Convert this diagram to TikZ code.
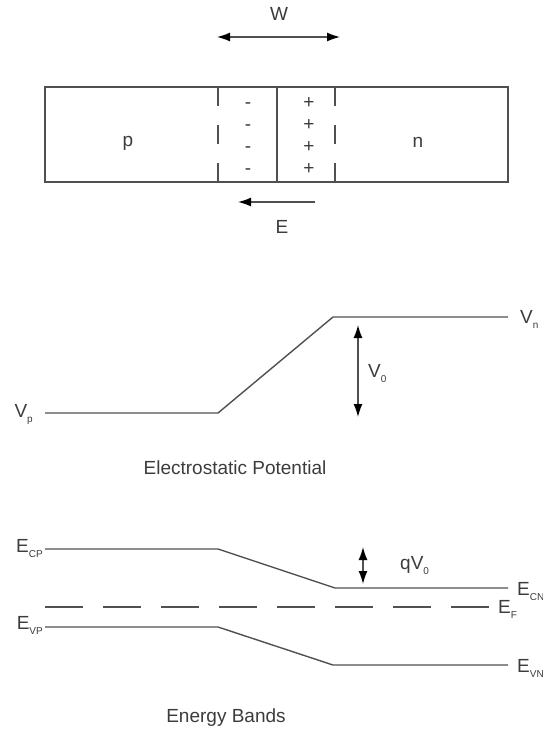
\documentclass[tikz,border=0pt]{standalone}
\usepackage{fontspec}
\setmainfont{Liberation Sans}
\usepackage{tikz}
\usetikzlibrary{positioning, arrows.meta}
\definecolor{linegray}{RGB}{80,80,80}
\definecolor{textgray}{RGB}{60,60,60}
\newcommand{\lowsub}[1]{\raisebox{-5.5pt}{\fontsize{10}{10}\selectfont #1}}

\begin{document}
\begin{tikzpicture}[
  x=1pt, y=-1pt,
  lbl/.style={inner sep=0pt, text=textgray, font=\fontsize{19}{22}\selectfont},
  wire/.style={draw=linegray, line width=1.4pt},
  edge/.style={wire, dash pattern=on 19pt off 19pt},
  fermi/.style={wire, dash pattern=on 38pt off 20pt},
  dim/.style={wire, {Latex[length=13pt,width=9pt,color=black]}-{Latex[length=13pt,width=9pt,color=black]}},
  field/.style={wire, -{Latex[length=13pt,width=9pt,color=black]}}
]
\useasboundingbox (0,0) rectangle (543,732);

\node[lbl, anchor=base] (w) at (279,20) {W};
\coordinate (wl) at (217,37);
\coordinate (wr) at (340,37);
\draw[dim] (wl) -- (wr);

\coordinate (boxnw) at (45,87);
\coordinate (boxse) at (508,182);
\draw[wire] (boxnw) rectangle (boxse);
\coordinate (dl1) at (218,87);
\coordinate (dl2) at (218,182);
\coordinate (dr1) at (335,87);
\coordinate (dr2) at (335,182);
\coordinate (jn1) at (277,87);
\coordinate (jn2) at (277,182);
\draw[edge] (dl1) -- (dl2);
\draw[edge] (dr1) -- (dr2);
\draw[wire] (jn1) -- (jn2);
\foreach \y [count=\i] in {102,124,146,168} {
  \node[lbl] (minus\i) at (248,\y+4) {-};
  \node[lbl] (plus\i) at (309,\y+1) {+};
}
\node[lbl, anchor=base] (pside) at (128,146) {p};
\node[lbl, anchor=base] (nside) at (418,147) {n};
\coordinate (e1) at (315,202);
\coordinate (e2) at (238,202);
\draw[field] (e1) -- (e2);
\node[lbl, anchor=base] (efield) at (282,233) {E};

\coordinate (vp1) at (45,413);
\coordinate (vp2) at (218,413);
\coordinate (vn1) at (333,317);
\coordinate (vn2) at (508,317);
\draw[wire] (vp1) -- (vp2) -- (vn1) -- (vn2);
\node[lbl, anchor=base east] (vplbl) at (33,417) {V\lowsub{p}};
\node[lbl, anchor=base west] (vnlbl) at (520,323) {V\lowsub{n}};
\coordinate (v0a) at (358,325);
\coordinate (v0b) at (358,417);
\draw[dim] (v0a) -- (v0b);
\node[lbl, anchor=base west] (v0lbl) at (368,377) {V\lowsub{0}};
\node[lbl, anchor=base] (potential) at (235,474) {Electrostatic Potential};

\coordinate (cp1) at (45,549);
\coordinate (cp2) at (218,549);
\coordinate (cn1) at (335,588);
\coordinate (cn2) at (508,588);
\draw[wire] (cp1) -- (cp2) -- (cn1) -- (cn2);
\coordinate (ef1) at (45,607);
\coordinate (ef2) at (489,607);
\draw[fermi] (ef1) -- (ef2);
\coordinate (vp3) at (45,627);
\coordinate (vp4) at (218,627);
\coordinate (vn3) at (333,665);
\coordinate (vn4) at (508,665);
\draw[wire] (vp3) -- (vp4) -- (vn3) -- (vn4);
\coordinate (q1) at (363,547);
\coordinate (q2) at (363,584);
\draw[dim] (q1) -- (q2);
\node[lbl, anchor=base west] (qv0lbl) at (400,569) {qV\lowsub{0}};
\node[lbl, anchor=base east] (ecplbl) at (43,552) {E\lowsub{CP}};
\node[lbl, anchor=base east] (evplbl) at (43,629) {E\lowsub{VP}};
\node[lbl, anchor=base west] (ecnlbl) at (517,595) {E\lowsub{CN}};
\node[lbl, anchor=base west] (eflbl) at (498,613) {E\lowsub{F}};
\node[lbl, anchor=base west] (evnlbl) at (517,672) {E\lowsub{VN}};
\node[lbl, anchor=base] (bands) at (226,722) {Energy Bands};
\end{tikzpicture}
\end{document}
